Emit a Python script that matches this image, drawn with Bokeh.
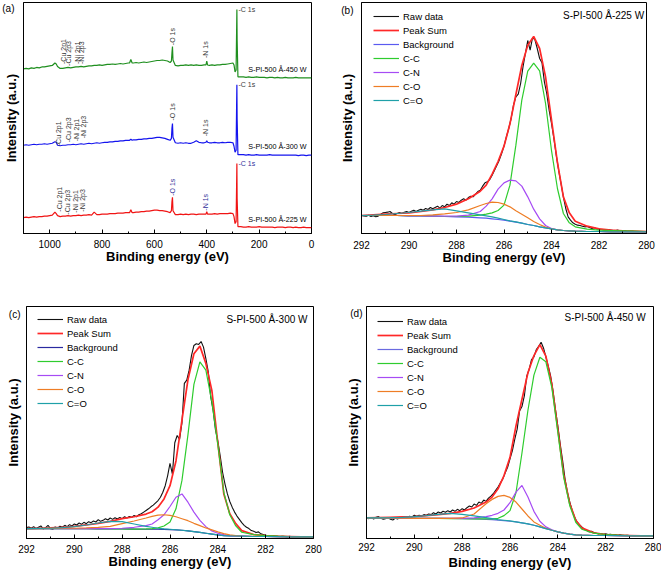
import numpy as np
from bokeh.plotting import figure
from bokeh.models import Range1d, FixedTicker, Label, Legend, LegendItem
from bokeh.layouts import column, row
from bokeh.embed import file_html
from bokeh.resources import INLINE

FONT = "Liberation Sans"

# ---------------- (a) survey spectra ----------------
survey_ev = [1100, 1090, 1080, 1070, 1060, 1050, 1040, 1030, 1020, 1010, 1000, 990,
             980, 975, 970,
             960, 950, 940, 930, 920, 910, 900, 890, 880, 870, 860, 850, 840, 830, 820, 810, 800, 790, 780, 770, 760, 750, 740, 730, 720, 710, 700,
             695, 690, 685,
             680, 670, 660, 650, 640, 630, 620, 610, 600, 590, 580, 570, 560, 550, 540,
             535, 533, 531, 529,
             520, 510, 500, 490, 480, 470, 460, 450, 440, 430, 420, 410,
             403, 400, 397,
             390, 380, 370, 360, 350, 340, 330, 320, 310, 300,
             296, 292, 288, 286, 285, 284, 281,
             270, 260, 250, 240, 230, 220, 210, 200, 190, 180, 170, 160, 150, 140, 130, 120, 110, 100, 90, 80, 70, 60, 50, 40, 30, 20, 10, 0]

survey_450 = [166, 166.5, 166, 167, 166.5, 167.5, 167, 168, 168, 168.5, 169, 169.5,
              172, 171, 168.5,
              166.5, 166.5, 167, 167.5, 167, 167.5, 168, 168, 168.5, 168, 168.5, 169, 169, 169.5, 169.5, 170, 169.5, 170, 170.5, 170.5, 171, 170.5, 171, 171.5, 171, 171.5, 172,
              172, 175.5, 172,
              172, 172.5, 172, 172.5, 173, 172.5, 173, 173.5, 174, 174.5, 174.5, 175, 174.5, 174, 172.5,
              174, 182, 188.5, 175,
              169.5, 169, 169.5, 169.5, 170, 169.5, 170, 169.5, 170, 169.5, 169.5, 170,
              170, 174, 170,
              169.5, 170, 169.5, 170, 170, 170.5, 170.5, 171, 171.5, 172,
              170, 163, 165, 205, 226, 195, 158,
              158, 158, 157.5, 158, 157.5, 157.5, 158, 157.5, 157.5, 157.5, 157, 157.5, 157.5, 157, 157.5, 157, 157, 157.5, 157, 157, 157, 157.5, 157, 157, 157, 157, 157, 157]

survey_300 = [89, 89.5, 89, 89.5, 90, 89.5, 90, 90, 90.5, 90, 90.5, 91,
              92.5, 92, 89,
              88.5, 89, 89, 89.5, 89.5, 90, 89.5, 90, 90.5, 90, 90.5, 91, 90.5, 91, 91.5, 91, 91.5, 92, 92, 92.5, 92.5, 93, 93, 93.5, 93.5, 94, 94,
              94, 95, 94,
              94.5, 94.5, 95, 95, 95.5, 95.5, 96, 96, 96.5, 97, 97, 96.5, 96, 95, 94,
              96, 106, 111, 97,
              91.5, 91, 91.5, 91, 91.5, 91, 91, 92, 93.5, 92, 91.5, 91.5,
              92, 93.5, 92,
              91.5, 91.5, 92, 91.5, 91.5, 92, 91.5, 92, 92, 91.5,
              88, 82, 84, 130, 150, 115, 79.5,
              79.5, 79.5, 79, 79.5, 79, 79, 79.5, 79, 79, 79, 79, 79.5, 79, 79, 79, 79, 79, 79, 79, 79, 79, 79, 78.5, 79, 79, 78.5, 79, 79]

survey_225 = [16, 16.5, 16, 16.5, 17, 16.5, 17, 17, 17.5, 17.5, 18, 18.5,
              21.5, 20, 18,
              17, 17.5, 17.5, 18, 17.5, 18, 18, 18.5, 18, 18.5, 18.5, 19, 18.5, 21.5, 19, 19, 19.5, 19.5, 19.5, 20, 20, 20, 20.5, 20.5, 20.5, 21, 21,
              21, 24, 21,
              21, 21.5, 21.5, 22, 22, 22.5, 22.5, 23, 23.5, 23.5, 23, 23, 22.5, 22, 21,
              23, 32, 36.5, 23,
              19, 19, 19.5, 19, 19.5, 19, 19.5, 19.5, 19, 19.5, 19.5, 19.5,
              19.5, 22, 19.5,
              19.5, 19.5, 20, 19.5, 20, 20, 20, 20, 20.5, 20,
              17, 10, 12, 50, 70.5, 35, 7,
              7, 6.5, 6.5, 7, 6.5, 6.5, 6.5, 7, 6.5, 6.5, 6.5, 6.5, 6.5, 6, 6.5, 6.5, 6.5, 6, 6.5, 6.5, 6, 6.5, 6, 6, 6.5, 6, 6, 6]

sample_names = ["S-PI-500 Å-450 W", "S-PI-500 Å-300 W", "S-PI-500 Å-225 W"]
element_labels = ["-Cu 2p1", "-Cu 2p3", "-Ni 2p1", "-Ni 2p3"]

# ---------------- (b)-(d) C 1s fits ----------------
fit_ev = [292, 291.5, 291, 290.5, 290, 289.5, 289, 288.5, 288, 287.5, 287,
          286.75, 286.5, 286.25, 286, 285.75, 285.5, 285.25, 285, 284.75, 284.5, 284.25, 284, 283.75, 283.5, 283.25, 283,
          282.5, 282, 281.5, 281, 280.5, 280]

raw_ev = [292.0, 291.9, 291.8, 291.7, 291.6, 291.5, 291.4, 291.3, 291.2, 291.1,
          291.0, 290.9, 290.8, 290.7, 290.6, 290.5, 290.4, 290.3, 290.2, 290.1,
          290.0, 289.9, 289.8, 289.7, 289.6, 289.5, 289.4, 289.3, 289.2, 289.1,
          289.0, 288.9, 288.8, 288.7, 288.6, 288.5, 288.4, 288.3, 288.2, 288.1,
          288.0, 287.9, 287.8, 287.7, 287.6, 287.5, 287.4, 287.3, 287.2, 287.1,
          287.0, 286.9, 286.8, 286.7, 286.6, 286.5, 286.4, 286.3, 286.2, 286.1,
          286.0, 285.9, 285.8, 285.7, 285.6, 285.5, 285.4, 285.3, 285.2, 285.1,
          285.0, 284.9, 284.8, 284.7, 284.6, 284.5, 284.4, 284.3, 284.2, 284.1,
          284.0, 283.9, 283.8, 283.7, 283.6, 283.5, 283.4, 283.3, 283.2, 283.1,
          283.0, 282.9, 282.8, 282.7, 282.6, 282.5, 282.4, 282.3, 282.2, 282.1,
          282.0, 281.9, 281.8, 281.7, 281.6, 281.5, 281.4, 281.3, 281.2, 281.1,
          281.0, 280.9, 280.8, 280.7, 280.6, 280.5, 280.4, 280.3, 280.2, 280.1,
          280.0]

# 225 W
b_raw = [54, 53, 52, 55, 51, 53, 50, 52, 57, 62,
         63, 64, 66, 60, 56, 60, 63, 60, 64, 66,
         63, 67, 70, 66, 70, 73, 70, 75, 72, 78,
         74, 78, 82, 76, 84, 80, 88, 84, 92, 88,
         96, 93, 100, 104, 100, 108, 112, 110, 118, 126,
         130, 142, 152, 155, 162, 175, 190, 205, 220, 240,
         262, 290, 315, 345, 385, 410, 418, 450, 500, 540,
         579, 550, 587, 582, 555, 525, 512, 455, 420, 370,
         330, 285, 235, 190, 150, 110, 75, 50, 40, 32,
         28, 25, 24, 22, 20, 21, 18, 15, 17, 14,
         13, 12, 11, 10, 12, 10, 9, 9, 10, 8,
         8, 9, 7, 7, 7, 6, 6, 6, 6, 5,
         5]
b_sum = [54, 56, 58, 60, 62, 66, 71, 78, 88, 104, 127,
         145, 178, 216, 262, 329, 417, 504, 565, 591, 555, 470, 341, 213, 110, 62, 37,
         22, 14, 10, 8, 7, 6]
b_bg = [54, 54, 54, 54, 53, 53, 52, 51, 50, 49, 47,
        46, 44, 42, 40, 37, 34, 31, 27, 24, 20, 17, 14, 11, 9, 8, 7,
        6, 6, 5, 5, 5, 5]
b_cc = [54, 54, 54, 54, 53, 53, 52, 51, 51, 52, 55,
        58, 62, 69, 85, 145, 265, 400, 487, 511, 488, 390, 249, 135, 60, 32, 20,
        13, 10, 9, 8, 7, 6]
b_cn = [54, 54, 54, 54, 53, 53, 52, 52, 52, 55, 66,
        82, 104, 133, 152, 160, 158, 142, 110, 73, 44, 24, 15, 11, 9, 8, 7,
        6, 6, 5, 5, 5, 5]
b_co = [54, 54, 54, 54, 54, 54, 56, 59, 63, 71, 84,
        90, 94, 93, 88, 80, 68, 58, 47, 36, 27, 19, 14, 11, 9, 8, 7,
        6, 6, 5, 5, 5, 5]
b_coo = [54, 55, 57, 60, 63, 67, 71, 74, 68, 62, 56,
         53, 50, 46, 42, 38, 35, 31, 27, 24, 20, 17, 14, 11, 9, 8, 7,
         6, 6, 5, 5, 5, 5]

# 300 W
c_raw = [33, 35, 31, 36, 30, 34, 38, 29, 33, 40,
         30, 28, 35, 31, 37, 34, 40, 36, 42, 38,
         44, 41, 47, 43, 49, 45, 51, 48, 53, 50,
         57, 52, 55, 60, 56, 62, 58, 63, 59, 64,
         60, 66, 62, 67, 64, 70, 66, 72, 75, 80,
         85, 90, 96, 101, 108, 115, 125, 140, 160, 190,
         228, 195, 290, 312, 300, 350, 470, 480, 510, 555,
         585, 590, 588, 597, 580, 545, 505, 430, 390, 330,
         295, 250, 200, 165, 135, 112, 95, 80, 68, 58,
         48, 40, 34, 30, 24, 22, 18, 20, 14, 12,
         10, 8, 8, 9, 7, 7, 6, 7, 6, 5,
         7, 5, 5, 6, 5, 5, 4, 5, 4, 5,
         5]
c_sum = [30, 31, 32, 34, 37, 41, 46, 52, 60, 66, 74,
         81, 95, 120, 160, 235, 359, 481, 560, 583, 530, 449, 289, 135, 75, 45, 24,
         12, 9, 7, 6, 5, 5]
c_bg = [30, 30, 30, 30, 30, 29.5, 29, 29, 29, 28.5, 28,
        28, 28, 27.5, 27, 26, 25, 23, 21, 18.5, 16, 13.5, 11, 9, 8, 7.5, 7,
        6, 6, 5.5, 5, 5, 5]
c_cc = [30, 30, 30, 30, 30, 29.5, 29, 29, 29, 28.5, 29,
        30, 32, 38, 50, 90, 176, 314, 467, 535, 510, 415, 285, 140, 72, 38, 19,
        12, 9, 7, 6, 5, 5]
c_cn = [30, 30, 30, 30, 30, 30, 30, 30, 31, 34, 39,
        44, 57, 72, 97, 125, 135, 110, 80, 55, 36, 23, 16, 12, 9, 7.5, 7,
        6, 6, 5.5, 5, 5, 5]
c_co = [30, 30, 30.5, 31, 31, 32, 34, 37, 45, 53, 62,
        67, 71, 72, 70, 66, 60, 54, 46, 39, 32, 26, 20, 15, 11, 9, 7.5,
        6.5, 6, 5.5, 5, 5, 5]
c_coo = [30, 30.5, 31, 33, 36, 41, 47, 52, 51, 44, 37,
         34, 31, 29, 28, 26.5, 25, 23, 21, 18.5, 16, 13.5, 11, 9, 8, 7.5, 7,
         6, 6, 5.5, 5, 5, 5]

# 450 W
d_raw = [62, 60, 63, 59, 64, 66, 61, 58, 60, 63,
         58, 56, 61, 59, 64, 62, 66, 63, 67, 65,
         70, 67, 70, 68, 72, 70, 74, 72, 78, 74,
         80, 77, 82, 79, 84, 80, 86, 82, 88, 84,
         90, 86, 93, 98, 95, 104, 100, 110, 106, 116,
         112, 122, 128, 135, 145, 155, 168, 180, 198, 215,
         240, 265, 300, 330, 385, 398, 430, 490, 510, 540,
         548, 570, 580, 592, 575, 548, 520, 490, 445, 390,
         340, 285, 235, 180, 140, 110, 85, 65, 50, 42,
         35, 28, 25, 20, 22, 18, 16, 14, 15, 13,
         14, 12, 13, 11, 12, 10, 11, 10, 9, 10,
         9, 9, 8, 9, 8, 8, 8, 8, 7, 8,
         8]
d_sum = [62, 63, 64, 65, 66, 69, 72, 76, 82, 92, 110,
         125, 150, 190, 245, 340, 420, 500, 552, 585, 550, 465, 330, 190, 105, 55, 32,
         17, 12, 10, 9, 8, 8]
d_bg = [62, 62, 62, 61.5, 61, 61, 61, 60.5, 60, 59, 58,
        57, 55, 54, 52, 50, 47, 44, 40, 35, 30, 25, 20, 16, 13, 11, 10,
        9, 9, 8.5, 8, 8, 8]
d_cc = [62, 62, 62, 61.5, 61, 61, 60.5, 60, 60, 59, 59,
        59, 61, 69, 84, 138, 258, 387, 493, 547, 533, 455, 320, 183, 99, 49, 28,
        16, 12, 10, 9, 8, 8]
d_cn = [62, 62, 62, 61.5, 61, 61, 61, 61, 61, 62, 66,
        70, 76, 86, 108, 140, 160, 125, 82, 52, 35, 26, 20, 16, 13, 11, 10,
        9, 9, 8.5, 8, 8, 8]
d_co = [62, 62, 62, 61.5, 61, 61, 61, 61, 62, 74, 105,
        118, 127, 130, 124, 110, 89, 68, 50, 40, 31, 25, 20, 16, 13, 11, 10,
        9, 9, 8.5, 8, 8, 8]
d_coo = [62, 62.5, 63, 64, 66, 69, 73, 76, 73, 68, 63,
         60, 57, 55, 53, 50, 47, 44, 40, 35, 30, 25, 20, 16, 13, 11, 10,
         9, 9, 8.5, 8, 8, 8]

legend_names = ["Raw data", "Peak Sum", "Background", "C-C", "C-N", "C-O", "C=O"]
panel_tags = ["(a)", "(b)", "(c)", "(d)"]


def base_fig(w, h, bl, br, bt, bb, xr, yr, ticks, minor, tstand, xstand, tag, tag_y, tag_stand, ylab_stand):
    p = figure(width=w, height=h, min_border_left=bl, min_border_right=br,
               min_border_top=bt, min_border_bottom=bb, x_range=Range1d(*xr), y_range=Range1d(*yr),
               output_backend="svg", toolbar_location=None, tools="", title=None)
    p.outline_line_color = "black"
    p.outline_line_width = 1
    p.grid.visible = False
    p.background_fill_color = "white"
    p.border_fill_color = "white"
    xa = p.xaxis[0]
    xa.ticker = FixedTicker(ticks=ticks, minor_ticks=minor)
    xa.major_tick_in = 4
    xa.major_tick_out = 0
    xa.minor_tick_in = 2
    xa.minor_tick_out = 0
    xa.axis_line_color = "black"
    xa.major_tick_line_color = "black"
    xa.minor_tick_line_color = "black"
    xa.major_label_text_font = FONT
    xa.major_label_text_font_size = "10px"
    xa.major_label_text_color = "black"
    xa.major_label_standoff = tstand
    xa.axis_label = "Binding energy (eV)"
    xa.axis_label_text_font = FONT
    xa.axis_label_text_font_style = "bold"
    xa.axis_label_text_font_size = "13px"
    xa.axis_label_text_color = "black"
    xa.axis_label_standoff = xstand
    # y axis: no ticks; the panel tag sits as the single tick label near the top
    ya = p.yaxis[0]
    ya.ticker = FixedTicker(ticks=[tag_y])
    ya.major_label_overrides = {tag_y: tag}
    ya.major_tick_in = 0
    ya.major_tick_out = 0
    ya.minor_tick_in = 0
    ya.minor_tick_out = 0
    ya.major_label_standoff = tag_stand
    ya.major_label_text_font = FONT
    ya.major_label_text_font_size = "10px"
    ya.major_label_text_color = "black"
    ya.axis_line_color = "black"
    ya.axis_label = "Intensity (a.u.)"
    ya.axis_label_text_font = FONT
    ya.axis_label_text_font_style = "bold"
    ya.axis_label_text_font_size = "13px"
    ya.axis_label_text_color = "black"
    ya.axis_label_standoff = ylab_stand
    return p


def add_label(p, x, y, text, size, color="black", align="left", baseline="middle", angle=0.0):
    p.add_layout(Label(x=x, y=y, text=text, text_font=FONT,
                       text_font_size=f"{size}px", text_color=color, text_align=align,
                       text_baseline=baseline, angle=angle))


# ---- panel (a)
pa = base_fig(330, 273, 23, 19, 2, 38, (1100, 0), (0, 233),
              [0, 200, 400, 600, 800, 1000], [100, 300, 500, 700, 900, 1100], 6, -2,
              panel_tags[0], 227, 9, -20)
pa.line(survey_ev, survey_450, line_color="#1f8f1f", line_width=1.2)
pa.line(survey_ev, survey_300, line_color="#1414ee", line_width=1.2)
pa.line(survey_ev, survey_225, line_color="#f01414", line_width=1.2)

vert = np.pi / 2
gray = "#3a3a3a"
navy = "#30309a"
for xv, yv, t in zip([947, 928, 894, 879], [171, 169, 171, 171], element_labels):
    add_label(pa, xv, yv, t, 7, gray, angle=vert)
add_label(pa, 532, 190, "-O 1s", 7, gray, angle=vert)
add_label(pa, 403, 177, "-N 1s", 7, gray, angle=vert)
add_label(pa, 279, 226, "-C 1s", 7, gray)
add_label(pa, 19, 165, sample_names[0], 7.2, "black", align="right")
for xv, yv, t in zip([967, 929, 898, 869], [88, 92, 93, 96], element_labels):
    add_label(pa, xv, yv, t, 7, gray, angle=vert)
add_label(pa, 532, 114, "-O 1s", 7, gray, angle=vert)
add_label(pa, 403, 98, "-N 1s", 7, gray, angle=vert)
add_label(pa, 279, 150, "-C 1s", 7, gray)
add_label(pa, 19, 88, sample_names[1], 7.2, "black", align="right")
for xv, yv, t in zip([963, 933, 903, 874], [22, 19, 21, 22], element_labels):
    add_label(pa, xv, yv, t, 7, gray, angle=vert)
add_label(pa, 532, 38, "-O 1s", 7, navy, angle=vert)
add_label(pa, 403, 23, "-N 1s", 7, navy, angle=vert)
add_label(pa, 279, 71, "-C 1s", 7, navy)
add_label(pa, 19, 14, sample_names[2], 7.2, "black", align="right")


# ---- fit panels
def fit_panel(w, h, bl, br, bt, bb, ymax, tstand, xstand, raw, ssum, bg, cc, cn, co, coo,
              bgcolor, leg_xy, name, name_xy, tag, tag_y, tag_stand, ylab_stand):
    p = base_fig(w, h, bl, br, bt, bb, (292, 280), (0, ymax),
                 [280, 282, 284, 286, 288, 290, 292], [281, 283, 285, 287, 289, 291], tstand, xstand,
                 tag, tag_y, tag_stand, ylab_stand)
    series = [(raw_ev, raw, "#111111", 1.1), (fit_ev, ssum, "#ff2828", 1.7), (fit_ev, bg, bgcolor, 1.2),
              (fit_ev, cc, "#2ecc2e", 1.2), (fit_ev, cn, "#a64bf4", 1.2), (fit_ev, co, "#ee7d25", 1.2),
              (fit_ev, coo, "#1fa0a8", 1.2)]
    items = []
    for (xs, ys, col, lw), nm in zip(series, legend_names):
        r = p.line(xs, ys, line_color=col, line_width=lw)
        items.append(LegendItem(label=nm, renderers=[r]))
    leg = Legend(items=items, location=leg_xy, padding=0, margin=0, spacing=0,
                 glyph_width=26, glyph_height=14, label_height=14, label_standoff=4,
                 label_text_font=FONT, label_text_font_size="9.5px", label_text_color="black",
                 border_line_alpha=0, background_fill_alpha=0)
    p.add_layout(leg)
    add_label(p, name_xy[0], name_xy[1], name, 10, "black", align="right")
    return p


pb = fit_panel(331, 273, 31, 15, 2, 40, 693, 7, -2, b_raw, b_sum, b_bg, b_cc, b_cn, b_co, b_coo,
               "#5a5af0", (12, 126), sample_names[2], (280.1, 654), panel_tags[1], 669, 8, -17)
pc = fit_panel(330, 300, 26, 17, 31, 35, 703, 6, -2, c_raw, c_sum, c_bg, c_cc, c_cn, c_co, c_coo,
               "#2a2aa0", (11, 128), sample_names[1], (280.25, 665), panel_tags[2], 678, 6, -15)
pd = fit_panel(331, 300, 36, 8, 33, 35, 700, 4, 1, d_raw, d_sum, d_bg, d_cc, d_cn, d_co, d_coo,
               "#6a6ae0", (11, 126), sample_names[0], (280.33, 668), panel_tags[3], 678, 4, -14)

layout = column(row(pa, pb), row(pc, pd))
open("out.html", "w").write(file_html(layout, INLINE))
